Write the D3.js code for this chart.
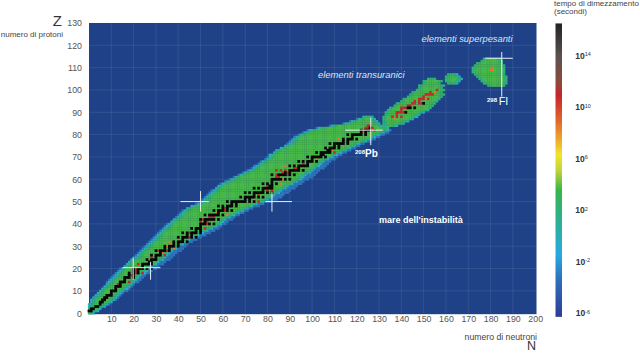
<!DOCTYPE html>
<html><head><meta charset="utf-8">
<script src="https://cdn.jsdelivr.net/npm/d3@7"></script>
<style>
html,body{margin:0;padding:0;background:#fff;overflow:hidden}
svg{display:block}
text{font-family:"Liberation Sans",Arial,sans-serif}
</style></head><body>
<svg id="c" width="640" height="353"></svg>
<script>
// axis ticks
const nTicks = [10,20,30,40,50,60,70,80,90,100,110,120,130,140,150,160,170,180,190,200];
const zTicks = [0,10,20,30,40,50,60,70,80,90,100,110,120,130];
// colour bar: log10(half-life) -> colour
const logStops = [-6.3,-3.4,-1.5,1.3,3.5,5,6.3,7.6,9,10.9,12,14,16.5];
const colorStops = ["#2f3b96","#2e6fb7","#27aae1","#2eb08f","#35b54a","#bcd33a","#f2e52a","#eca22e","#e0652c","#c8242c","#8b4a3c","#5a5050","#222222"];
const barTicks = [[14,"14"],[10,"10"],[6,"6"],[2,"2"],[-2,"-2"],[-6,"-6"]];
// Z, blue low N, green low N, green high N, blue high N
const mainBand = [
[0,0,0,1,2],[1,0,0,3,4],[2,0,0,4,5],[3,0,1,6,7],[4,0,1,7,9],[5,1,2,9,10],[6,1,2,10,12],[7,2,3,11,13],[8,3,4,12,14],[9,4,5,13,15],
[10,5,6,14,17],[11,6,7,16,18],[12,7,8,17,19],[13,8,9,18,20],[14,8,10,19,22],[15,9,11,20,23],[16,10,12,21,24],[17,11,13,22,25],[18,12,14,24,27],[19,13,15,25,28],
[20,14,16,26,30],[21,16,17,27,31],[22,17,18,29,33],[23,18,19,30,34],[24,19,20,32,36],[25,20,22,33,37],[26,21,23,34,38],[27,22,24,35,39],[28,23,25,36,41],[29,24,26,38,42],
[30,25,27,39,43],[31,26,28,41,44],[32,27,29,43,46],[33,28,30,44,48],[34,29,31,46,50],[35,30,32,48,52],[36,31,33,50,54],[37,32,34,52,56],[38,33,35,54,58],[39,34,36,56,59],
[40,35,37,58,61],[41,37,38,59,62],[42,38,39,60,64],[43,39,41,62,65],[44,40,42,64,67],[45,41,43,66,69],[46,42,44,68,71],[47,44,45,70,73],[48,46,47,72,76],[49,48,50,74,78],
[50,50,52,77,82],[51,51,53,79,84],[52,52,54,81,86],[53,53,55,82,87],[54,54,56,84,89],[55,55,57,85,90],[56,57,58,87,92],[57,58,59,88,93],[58,59,61,90,95],[59,61,63,92,96],
[60,63,65,94,98],[61,65,67,95,100],[62,67,69,96,101],[63,69,71,98,102],[64,71,73,99,103],[65,73,75,100,105],[66,74,76,102,106],[67,76,78,103,107],[68,77,79,104,108],[69,79,81,106,110],
[70,80,82,108,111],[71,81,82,110,113],[72,83,84,112,115],[73,84,85,114,117],[74,86,87,116,119],[75,88,89,118,121],[76,89,91,120,123],[77,90,92,123,126],[78,91,93,125,128],[79,92,94,127,130],
[80,94,96,129,132],[81,96,98,131,134],[82,98,100,133,135],[83,102,104,133,134],[84,108,110,131,132],[85,114,116,129,130],[86,117,119,128,129],[87,120,122,127,128],[88,123,124,126,127]];
const actinideBand = [
[84,133,133,137,138],[85,132,132,140,141],[86,132,132,142,143],[87,132,132,144,145],[88,132,132,146,147],[89,133,133,147,148],[90,133,133,149,150],[91,134,134,151,152],[92,135,135,153,153],[93,137,137,154,154],
[94,138,138,155,155],[95,140,140,156,156],[96,141,141,157,157],[97,143,143,158,158],[98,144,144,159,159],[99,145,145,158,158],[100,147,147,159,159],[101,148,148,158,158],[102,148,148,159,159],[103,150,150,157,157],
[104,150,150,158,158],[105,152,152,155,155]];
const smallIsland = [[103,161,161,164,165],[104,160,160,165,166],[105,160,160,166,167],[106,160,160,165,166],[107,161,161,164,165]];
const heavyIsland = [
[102,179,179,186,186],[103,177,177,187,187],[104,176,176,187,187],[105,175,175,187,187],[106,174,174,187,187],[107,173,173,186,186],[108,172,172,186,186],[109,172,172,186,186],[110,172,172,186,186],[111,173,173,186,186],
[112,174,174,185,185],[113,176,176,185,185],[114,177,177,184,184]];
// stable nuclides: Z, list of N
const stableCells = [
[1,[0,1]],[2,[1,2]],[3,[3,4]],[4,[5]],[5,[5,6]],[6,[6,7]],[7,[7,8]],[8,[8,9,10]],[9,[10]],[10,[10,11,12]],
[11,[12]],[12,[12,13,14]],[13,[14]],[14,[14,15,16]],[15,[16]],[16,[16,17,18,20]],[17,[18,20]],[18,[18,20,22]],[19,[20,22]],[20,[20,22,23,24,26,28]],
[21,[24]],[22,[24,25,26,27,28]],[23,[27,28]],[24,[26,28,29,30]],[25,[30]],[26,[28,30,31,32]],[27,[32]],[28,[30,32,33,34,36]],[29,[34,36]],[30,[34,36,37,38,40]],
[31,[38,40]],[32,[38,40,41,42,44]],[33,[42]],[34,[40,42,43,44,46,48]],[35,[44,46]],[36,[42,44,46,47,48,50]],[37,[48,50]],[38,[46,48,49,50]],[39,[50]],[40,[50,51,52,54,56]],
[41,[52]],[42,[50,52,53,54,55,56,58]],[44,[52,54,55,56,57,58,60]],[45,[58]],[46,[56,58,59,60,62,64]],[47,[60,62]],[48,[58,60,62,63,64,66]],[49,[64,66]],[50,[62,64,65,66,67,68,69,70,72,74]],
[51,[70,72]],[52,[68,70,71,72,73,74,76,78]],[53,[74]],[54,[70,72,74,75,76,77,78,80,82]],[55,[78]],[56,[74,76,78,79,80,81,82]],[57,[81,82]],[58,[78,80,82,84]],[59,[82]],[60,[82,83,84,85,86,88,90]],
[62,[82,85,86,87,88,90,92]],[63,[88,90]],[64,[90,91,92,93,94,96]],[65,[94]],[66,[90,92,94,95,96,97,98]],[67,[98]],[68,[94,96,98,99,100,102]],[69,[100]],[70,[98,100,101,102,103,104,106]],
[71,[104,105]],[72,[102,104,105,106,107,108]],[73,[107,108]],[74,[106,108,109,110,112]],[75,[110,112]],[76,[108,110,111,112,113,114,116]],[77,[114,116]],[78,[114,116,117,118,120]],[79,[118]],[80,[116,118,119,120,121,122,124]],
[81,[122,124]],[82,[122,124,125,126]],[83,[126]],[90,[142]],[92,[143,144,146]],[94,[150]]];
// long-lived nuclides: red and orange
const redCells = [
[13,[13]],[14,[18]],[17,[19]],[18,[21,24]],[19,[21]],[20,[21]],[22,[22]],[25,[28]],[26,[34]],[28,[31,35]],
[34,[45]],[36,[45]],[38,[52]],[40,[53]],[41,[50,53]],[42,[51]],[43,[54,55,56]],[46,[61]],[47,[61]],[50,[76]],[53,[76]],[55,[80,82]],[57,[80]],
[61,[84,85]],[62,[84,89]],[63,[87,89]],[64,[84,86,88]],[65,[92,93]],[67,[96]],[71,[105]],[72,[110]],[82,[123,128]],[83,[124,125,127]],[84,[125,126]],
[88,[136,138,140]],[89,[138]],[90,[138,139,140,141]],[91,[140]],[92,[140,141,142]],[93,[143,144]],[94,[145,146,148,149]],[95,[146,148]],[96,[148,149,150,152]],[97,[150]],[98,[151,152,153,154]],[99,[153]],[100,[156]]];
const orangeCells = [
[27,[33]],[29,[38]],[30,[35]],[31,[37]],[32,[36]],[33,[40]],[44,[62]],[45,[57]],[51,[74]],[58,[86]],[60,[87]],[66,[88]],[69,[102]],[73,[109]],[78,[112]],[81,[123]],
[87,[137]],[96,[151]],[99,[155]],[109,[180,181]],[110,[181]]];
// magic-number guide lines: N1, Z1, N2, Z2
const guideLines = [
[15,20.4,32,20.4],[19.8,15,19.8,25],[27.6,15,27.6,23],
[41,50,53.7,50],[50,45.5,50,54.7],[79,50,91,50],[82,45.5,82,54.5],
[114.8,82,131.7,82],[126.3,75.3,126.3,87.6],[177.6,114.2,190,114.2],[185,97,185,117]];

const svg = d3.select("#c");
const x = d3.scaleLinear().domain([0,200]).range([89,535.2]);
const y = d3.scaleLinear().domain([0,130]).range([313.2,23]);
const logY = d3.scaleLinear().domain([-6,14]).range([313,55.6]);
const col = d3.scaleLinear().domain(logStops).range(colorStops).clamp(true);
const cw = x(1)-x(0), ch = y(0)-y(1);
const plotRight = 536.5;

svg.append("rect").attr("x",x(0)).attr("y",y(130)).attr("width",plotRight-x(0)).attr("height",y(0)-y(130)+1).attr("fill","#1e4187");
const grid = svg.append("g").attr("stroke","#fff").attr("stroke-opacity",0.09).attr("stroke-width",1);
grid.selectAll("line.v").data(nTicks.slice(0,-1)).join("line").attr("x1",d=>x(d)).attr("x2",d=>x(d)).attr("y1",y(130)).attr("y2",y(0));
grid.selectAll("line.h").data(zTicks.slice(1,-1)).join("line").attr("x1",x(0)).attr("x2",plotRight).attr("y1",d=>y(d)).attr("y2",d=>y(d));

const defs = svg.append("defs");
defs.append("filter").attr("id","soft").attr("x","-5%").attr("y","-5%").attr("width","110%").attr("height","110%")
  .append("feGaussianBlur").attr("stdDeviation",0.5);
function bandCells(rows){
  const out=[];
  rows.forEach(([z,bLo,gLo,gHi,bHi])=>{
    for(let n=bLo;n<=bHi;n++){
      const d=n<gLo?gLo-n:(n>gHi?n-gHi:0);
      const inner=Math.min(n-gLo,gHi-n);
      const v = d>=2?-3.2:(d===1?-0.6:(inner<2?2.3:3.7));
      out.push({n,z,v});
    }
  });
  return out.sort((a,b)=>a.v-b.v);
}
const sea = svg.append("g").attr("filter","url(#soft)");
[actinideBand,smallIsland,heavyIsland,mainBand].forEach(rows=>{
  sea.append("g").selectAll("rect").data(bandCells(rows)).join("rect")
    .attr("x",d=>x(d.n)-cw/2).attr("y",d=>y(d.z)-ch/2)
    .attr("width",cw+0.2).attr("height",ch+0.2)
    .attr("fill",d=>col(d.v));
});

function flat(list){const o=[];list.forEach(([z,ns])=>ns.forEach(n=>o.push({n,z})));return o;}
[[orangeCells,8.6,0],[redCells,10.9,0.2],[stableCells,16.5,0.5]].forEach(([list,v,grow])=>{
  svg.append("g").selectAll("rect").data(flat(list)).join("rect")
    .attr("x",d=>x(d.n)-cw/2-grow/2).attr("y",d=>y(d.z)-ch/2-grow/2)
    .attr("width",cw+grow).attr("height",ch+grow)
    .attr("fill",v>16?"#080808":col(v));
});

svg.append("g").attr("stroke","#e8eef5").attr("stroke-width",1).selectAll("line").data(guideLines).join("line")
  .attr("x1",d=>x(d[0])).attr("y1",d=>y(d[1])).attr("x2",d=>x(d[2])).attr("y2",d=>y(d[3]));

const axB = svg.append("g").attr("transform",`translate(0,${y(0)+3})`).call(d3.axisBottom(x).tickValues(nTicks).tickSize(0).tickPadding(0).tickFormat(d3.format("d")));
const axL = svg.append("g").attr("transform",`translate(${x(0)-7},0)`).call(d3.axisLeft(y).tickValues(zTicks).tickSize(0).tickPadding(0).tickFormat(d3.format("d")));
[axB,axL].forEach(a=>{a.select(".domain").remove();a.selectAll("text").attr("fill","#555").style("font-size","8.8px").style("font-family","'Liberation Sans',Arial,sans-serif");});

function t(px,py,s,o={}){return svg.append("text").attr("x",px).attr("y",py).attr("fill",o.fill||"#444").attr("font-size",o.size||8)
  .attr("text-anchor",o.anchor||"start").attr("font-weight",o.weight||"normal").attr("font-style",o.style||"normal").text(s);}
t(62,26,"Z",{size:15,anchor:"end",fill:"#333"});
t(63,37,"numero di protoni",{size:8,anchor:"end"});
t(537,340,"numero di neutroni",{size:8.7,anchor:"end"});
t(536,350.2,"N",{size:12.5,anchor:"end",fill:"#333"});
t(554,6,"tempo di dimezzamento",{size:8});
t(554,14,"(secondi)",{size:8});
t(379,223,"mare dell'instabilità",{size:9,weight:"bold",fill:"#fff"});
t(421.5,42,"elementi superpesanti",{size:9.3,style:"italic",fill:"#dfe6f2"});
t(318,78,"elementi transuranici",{size:9.4,style:"italic",fill:"#dfe6f2"});
const pb=t(355,154,"208",{size:6,weight:"bold",fill:"#fff"});
pb.append("tspan").attr("font-size",10).attr("dy",3).text("Pb");
const fl=t(487,102,"298 ",{size:6,weight:"bold",fill:"#fff"});
fl.append("tspan").attr("font-size",11).attr("dy",3).attr("font-weight","normal").text("Fl");

const grad = defs.append("linearGradient").attr("id","bar").attr("x1",0).attr("x2",0).attr("y1",1).attr("y2",0);
const lo=logStops[0], hi=logStops[logStops.length-1];
grad.selectAll("stop").data(logStops).join("stop").attr("offset",d=>(d-lo)/(hi-lo)).attr("stop-color",d=>col(d));
svg.append("rect").attr("x",555.5).attr("width",6.5).attr("y",logY(hi)).attr("height",logY(lo)-logY(hi)).attr("fill","url(#bar)");
const lab = svg.append("g").selectAll("text").data(barTicks).join("text")
  .attr("x",d=>d[1].length>1?583:581.5).attr("y",d=>logY(d[0])+3).attr("text-anchor","middle")
  .attr("font-size",8.5).attr("font-weight","bold").attr("fill","#333");
lab.append("tspan").text("10");
lab.append("tspan").attr("font-size",5.5).attr("dy",-2.5).attr("font-weight","normal").text(d=>d[1]);
</script></body></html>
